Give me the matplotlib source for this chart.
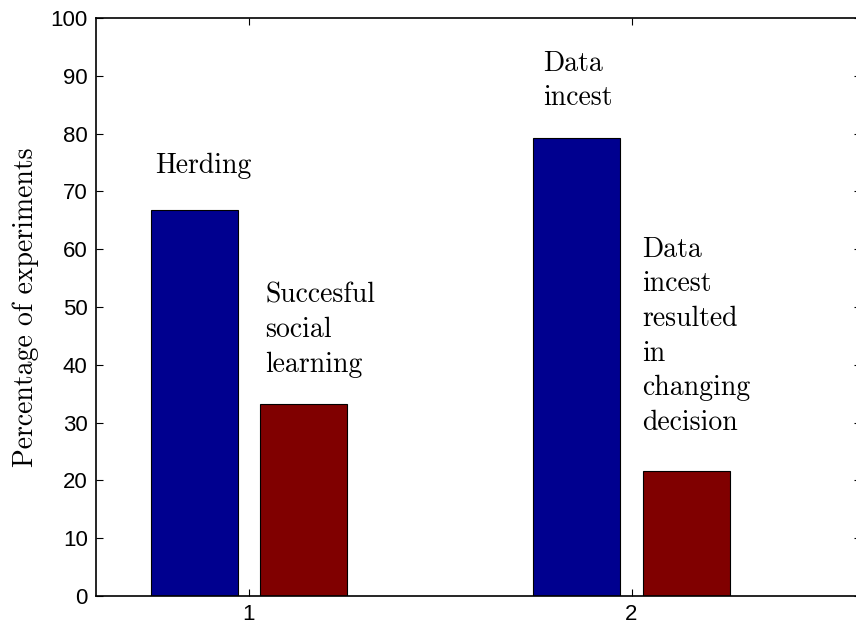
import numpy as np
import matplotlib
matplotlib.use("Agg")
import matplotlib.pyplot as plt

# data
groups = [1, 2]
first_bar = [66.7, 79.2]     # Herding / Data incest
second_bar = [33.3, 21.7]    # Succesful social learning / changed decision
labels_first = ["Herding", "Data\nincest"]
labels_second = ["Succesful\nsocial\nlearning", "Data\nincest\nresulted\nin\nchanging\ndecision"]
ylabel = "Percentage of experiments"

blue = (0, 0, 0.5625)
red = (0.5, 0, 0)
serif = "cmr10"

fig = plt.figure(figsize=(8.56, 6.26), dpi=100)
ax = fig.add_axes([96/856, 1-596/626, (861-96)/856, (596-18)/626])

x = np.array(groups, dtype=float)
w = 0.228
off = 0.143
ax.bar(x-off, first_bar, w, color=blue, edgecolor="black", linewidth=0.8)
ax.bar(x+off, second_bar, w, color=red, edgecolor="black", linewidth=0.8)

ax.set_xlim(0.6, 2.6)
ax.set_ylim(0, 100)
ax.set_xticks(groups)
ax.set_yticks(np.arange(0, 101, 10))
ax.tick_params(direction="in", length=5, width=0.8, top=True, right=True,
               labelsize=16, pad=6)
for t in ax.get_xticklabels() + ax.get_yticklabels():
    t.set_fontfamily("Liberation Sans")
for s in ax.spines.values():
    s.set_linewidth(1.2)

# text labels above the bars (baseline = last line)
fs = 20
ls = 1.41
ax.text(0.755, 73.2, labels_first[0], fontsize=fs, family=serif, va="baseline")
ax.text(1.042, 38.8, labels_second[0], fontsize=fs, family=serif, va="baseline", linespacing=ls)
ax.text(1.768, 84.9, labels_first[1], fontsize=fs, family=serif, va="baseline", linespacing=ls)
ax.text(2.029, 28.7, labels_second[1], fontsize=fs, family=serif, va="baseline", linespacing=ls)

ax.set_ylabel(ylabel, fontsize=fs, family=serif, labelpad=8)

fig.savefig("out.png", dpi=100)
